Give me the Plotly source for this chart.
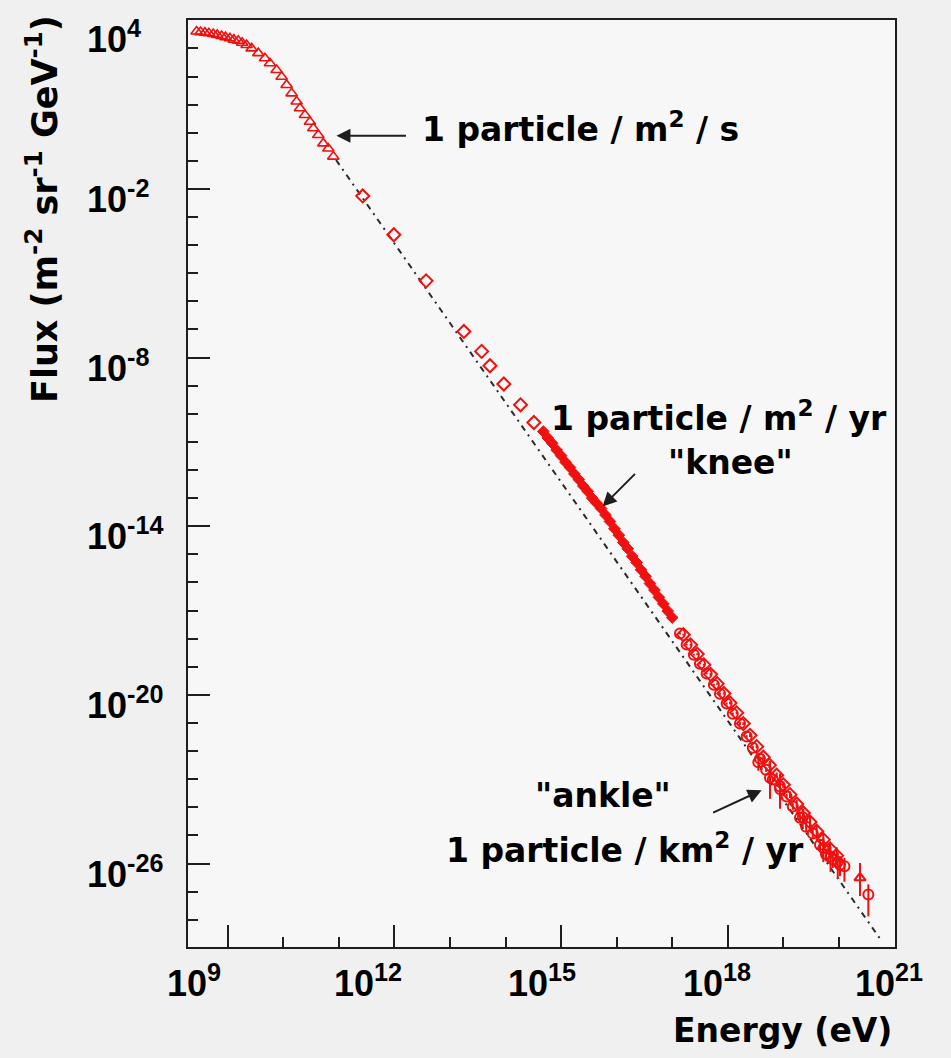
import plotly.graph_objects as go

# ---------------- data (log10 values) ----------------
# low-energy direct measurements (open triangles)
tri_logE = [8.44, 8.51, 8.59, 8.66, 8.74, 8.81, 8.89, 8.96, 9.04, 9.11, 9.19, 9.26, 9.34,
            9.43, 9.55, 9.67, 9.76, 9.88, 9.97, 10.06, 10.15, 10.24, 10.30, 10.39, 10.48,
            10.54, 10.63, 10.72, 10.81, 10.90]
tri_logF = [3.60, 3.58, 3.56, 3.54, 3.51, 3.48, 3.44, 3.40, 3.36, 3.31, 3.27, 3.20, 3.12,
            3.00, 2.83, 2.65, 2.47, 2.23, 1.99, 1.70, 1.40, 1.11, 0.87, 0.63, 0.39,
            0.16, -0.08, -0.38, -0.56, -0.85]

# balloon / satellite data (open diamonds)
dia_logE = [11.43, 11.99, 12.57, 13.25, 13.57, 13.72, 13.97, 14.27, 14.51]
dia_logF = [-2.25, -3.63, -5.27, -7.07, -7.78, -8.29, -8.94, -9.68, -10.31]

# air-shower data around the knee (small filled diamonds)
knee_logE = [14.68, 14.76, 14.84, 14.92, 15.00, 15.08, 15.16, 15.24, 15.32, 15.40,
             15.48, 15.56, 15.64, 15.72, 15.80, 15.88, 15.96, 16.04, 16.12, 16.20,
             16.28, 16.36, 16.44, 16.52, 16.60, 16.68, 16.76, 16.84, 16.92, 17.00]
knee_logF = [-10.63, -10.86, -11.05, -11.29, -11.49, -11.72, -11.91, -12.14, -12.34, -12.57,
             -12.76, -13.00, -13.18, -13.37, -13.60, -13.83, -14.09, -14.32, -14.58, -14.80,
             -15.07, -15.29, -15.55, -15.78, -16.04, -16.27, -16.53, -16.76, -17.02, -17.25]

# highest-energy data, series A (open circles)
hiA_logE = [17.14, 17.26, 17.39, 17.50, 17.62, 17.75, 17.86, 17.98, 18.09, 18.22, 18.34,
            18.45, 18.58, 18.69, 18.81, 18.94, 19.06, 19.17, 19.30, 19.41, 19.53, 19.66,
            19.77, 19.89, 20.02]
hiA_logF = [-17.82, -18.21, -18.57, -18.89, -19.24, -19.64, -19.96, -20.31, -20.67, -21.02,
            -21.48, -21.88, -22.27, -22.66, -23.01, -23.26, -23.62, -23.97, -24.37, -24.69,
            -24.93, -25.33, -25.68, -25.86, -26.04]
hiA_errU = [0.03, 0.03, 0.03, 0.03, 0.03, 0.03, 0.04, 0.04, 0.04, 0.05, 0.05, 0.06, 0.06,
            0.08, 0.08, 0.10, 0.10, 0.12, 0.12, 0.15, 0.15, 0.20, 0.20, 0.25, 0.30]
hiA_errD = [0.03, 0.03, 0.03, 0.03, 0.03, 0.03, 0.04, 0.04, 0.04, 0.05, 0.05, 0.06, 0.06,
            0.08, 0.08, 0.10, 0.10, 0.12, 0.12, 0.15, 0.18, 0.22, 0.25, 0.30, 0.40]

# highest-energy data, series B (open diamonds)
hiB_logE = [17.20, 17.33, 17.45, 17.57, 17.69, 17.81, 17.93, 18.04, 18.16, 18.28, 18.40,
            18.52, 18.64, 18.75, 18.88, 19.00, 19.12, 19.24, 19.36, 19.48, 19.60, 19.72,
            19.84, 19.96]
hiB_logF = [-17.86, -18.22, -18.55, -18.93, -19.27, -19.60, -19.95, -20.29, -20.64, -21.02,
            -21.44, -21.84, -22.22, -22.50, -22.86, -23.20, -23.55, -23.88, -24.20, -24.52,
            -24.85, -25.15, -25.48, -25.72]
hiB_errU = [0.03, 0.03, 0.03, 0.03, 0.04, 0.04, 0.04, 0.05, 0.05, 0.05, 0.06, 0.06, 0.08,
            0.10, 0.10, 0.12, 0.12, 0.15, 0.15, 0.18, 0.20, 0.22, 0.25, 0.30]
hiB_errD = [0.03, 0.03, 0.03, 0.03, 0.04, 0.04, 0.04, 0.05, 0.05, 0.05, 0.06, 0.06, 0.08,
            0.10, 0.10, 0.12, 0.12, 0.15, 0.15, 0.20, 0.22, 0.25, 0.30, 0.35]

# older experiments with large uncertainties
hiC_logE = [18.55, 18.76, 18.94, 19.35, 19.72, 19.85, 19.98, 20.10]
hiC_logF = [-22.40, -22.95, -23.35, -24.35, -25.45, -25.75, -25.95, -26.10]
hiC_errU = [0.25, 0.60, 0.55, 0.30, 0.35, 0.35, 0.35, 0.30]
hiC_errD = [0.30, 0.75, 0.70, 0.35, 0.50, 0.55, 0.60, 0.55]

# last two points
end_logE = [20.38, 20.53]
end_logF = [-26.51, -27.10]
end_errU = [0.53, 0.36]
end_errD = [0.65, 0.78]

# E^-2.83 reference line (end points)
ref_logE = [10.95, 20.76]
ref_logF = [-0.97, -28.73]

# axes
x_major = [9, 12, 15, 18, 21]
x_minor = [10, 11, 13, 14, 16, 17, 19, 20]
y_major = [4, -2, -8, -14, -20, -26]
y_minor = [3, 2, 1, 0, -1, -3, -4, -5, -6, -7, -9, -10, -11, -12, -13, -15, -16, -17,
           -18, -19, -21, -22, -23, -24, -25, -27, -28]
x_range = [8.285, 21.01]
y_range = [-28.97, 4.01]

# ---------------- helpers ----------------
def pw(a):
    return [10.0 ** v for v in a]

def err_up(logf, eu):
    return [10.0 ** (f + e) - 10.0 ** f for f, e in zip(logf, eu)]

def err_dn(logf, ed):
    return [10.0 ** f - 10.0 ** (f - e) for f, e in zip(logf, ed)]

def sup_label(v):
    return f"10<sup>{v}</sup>"

RED = "#f01010"
FONT = "DejaVu Sans"
TICKFONT = dict(family="Liberation Sans", size=36, color="black", weight="bold")
AXC = "#1e1e1e"

fig = go.Figure()

fig.add_trace(go.Scatter(
    x=pw(ref_logE), y=pw(ref_logF), mode="lines",
    line=dict(color="#2a2a2a", width=2, dash="6px,5px,2px,5px"),
    hoverinfo="skip", showlegend=False))

fig.add_trace(go.Scatter(
    x=pw(tri_logE), y=pw(tri_logF), mode="markers",
    marker=dict(symbol="triangle-up-open", size=10, color=RED, line=dict(width=1.6, color=RED)),
    showlegend=False))

fig.add_trace(go.Scatter(
    x=pw(dia_logE), y=pw(dia_logF), mode="markers",
    marker=dict(symbol="diamond-open", size=10, color=RED, line=dict(width=2, color=RED)),
    showlegend=False))

fig.add_trace(go.Scatter(
    x=pw(knee_logE), y=pw(knee_logF), mode="markers",
    marker=dict(symbol="diamond", size=9, color=RED, line=dict(width=1, color=RED)),
    showlegend=False))

for le, lf, eu, ed, sym in [(hiA_logE, hiA_logF, hiA_errU, hiA_errD, "circle-open"),
                            (hiB_logE, hiB_logF, hiB_errU, hiB_errD, "diamond-open"),
                            (hiC_logE, hiC_logF, hiC_errU, hiC_errD, "circle-open")]:
    fig.add_trace(go.Scatter(
        x=pw(le), y=pw(lf), mode="markers",
        marker=dict(symbol=sym, size=10, color=RED, line=dict(width=2, color=RED)),
        error_y=dict(type="data", symmetric=False, array=err_up(lf, eu),
                     arrayminus=err_dn(lf, ed), color=RED, thickness=2, width=0),
        showlegend=False))

fig.add_trace(go.Scatter(
    x=pw(end_logE), y=pw(end_logF), mode="markers",
    marker=dict(symbol=["triangle-up-open", "circle-open"], size=10, color=RED,
                line=dict(width=2, color=RED)),
    error_y=dict(type="data", symmetric=False, array=err_up(end_logF, end_errU),
                 arrayminus=err_dn(end_logF, end_errD), color=RED, thickness=2, width=0),
    showlegend=False))

axis_common = dict(
    type="log", showgrid=False, zeroline=False, showline=True, linecolor=AXC,
    linewidth=2, mirror=True, ticks="inside", ticklen=22, tickwidth=2, tickcolor=AXC,
    tickmode="array", showticklabels=False,
)

fig.update_layout(
    width=951, height=1058,
    margin=dict(l=188, r=56, t=20, b=111),
    paper_bgcolor="#f0f0f0", plot_bgcolor="#f7f7f7",
    xaxis=dict(**axis_common, range=x_range, tickvals=pw(x_major),
               minor=dict(tickmode="array", tickvals=pw(x_minor), ticks="inside",
                          ticklen=10, tickwidth=2, tickcolor=AXC)),
    yaxis=dict(**axis_common, range=y_range, tickvals=pw(y_major),
               minor=dict(tickmode="array", tickvals=pw(y_minor), ticks="inside",
                          ticklen=10, tickwidth=2, tickcolor=AXC)),
)

# ---------------- text ----------------
L, T, W, H = 188, 20, 707, 927

def px(xp):
    return (xp - L) / W

def py(yp):
    return (T + H - yp) / H

# tick labels placed the way the original renders them
x_label_shift = [-34, -26, -19, -11, -5]
for v, sh in zip(x_major, x_label_shift):
    fig.add_annotation(text=sup_label(v), x=v, xref="x", y=py(981), yref="paper",
                       xanchor="center", yanchor="middle", xshift=sh,
                       showarrow=False, font=TICKFONT)
y_label_shift = [-17, -8, -8, -8, -8, -8]
for v, sh in zip(y_major, y_label_shift):
    fig.add_annotation(text=sup_label(v), x=px(85), xref="paper", y=v, yref="y",
                       xanchor="left", yanchor="middle", yshift=sh,
                       showarrow=False, font=TICKFONT)

tfont = dict(family=FONT, size=33, color="black", weight="bold")

fig.add_annotation(text="Flux (m<sup>-2</sup> sr<sup>-1</sup> GeV<sup>-1</sup>)",
                   xref="paper", yref="paper", x=px(42), y=py(13),
                   xanchor="center", yanchor="top", textangle=-90,
                   showarrow=False, font=dict(family=FONT, size=35, color="black", weight="bold"))
fig.add_annotation(text="Energy (eV)", xref="paper", yref="paper",
                   x=px(894), y=py(1030), xanchor="right", yanchor="middle",
                   showarrow=False, font=tfont)

fig.add_annotation(text="1 particle / m<sup>2</sup> / s", xref="paper", yref="paper",
                   x=px(420), y=py(128), xanchor="left", yanchor="middle",
                   showarrow=False, font=tfont)
fig.add_annotation(text="1 particle / m<sup>2</sup> / yr", xref="paper", yref="paper",
                   x=px(889), y=py(416), xanchor="right", yanchor="middle",
                   showarrow=False, font=tfont)
fig.add_annotation(text="\"knee\"", xref="paper", yref="paper",
                   x=px(730), y=py(462), xanchor="center", yanchor="middle",
                   showarrow=False, font=tfont)
fig.add_annotation(text="\"ankle\"", xref="paper", yref="paper",
                   x=px(603), y=py(795), xanchor="center", yanchor="middle",
                   showarrow=False, font=tfont)
fig.add_annotation(text="1 particle / km<sup>2</sup> / yr", xref="paper", yref="paper",
                   x=px(806), y=py(848), xanchor="right", yanchor="middle",
                   showarrow=False, font=tfont)

# arrows (tip in data coordinates, tail as pixel offset)
arrows = [(10.957, -0.104, 71, 0), (15.746, -13.295, 34, -34), (18.61, -23.393, -50, 23)]
for lx, ly, ax, ay in arrows:
    fig.add_annotation(x=lx, y=ly, xref="x", yref="y", ax=ax, ay=ay,
                       axref="pixel", ayref="pixel", text="", showarrow=True,
                       arrowhead=2, arrowsize=1.4, arrowwidth=2, arrowcolor=AXC)

fig.write_html("out.html")
